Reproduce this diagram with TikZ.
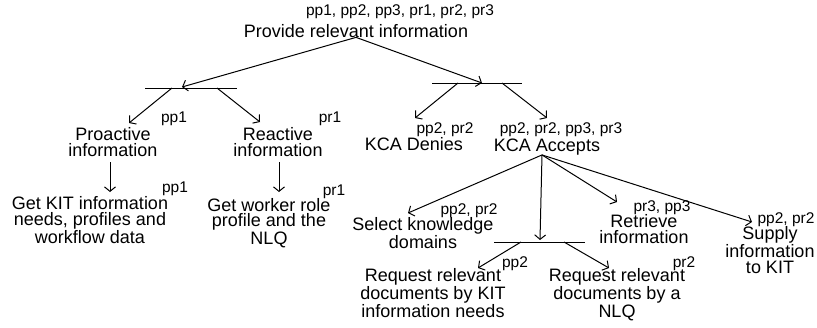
\documentclass[tikz,border=0pt]{standalone}
\usepackage{fontspec}
\setmainfont{Liberation Sans}
\usetikzlibrary{arrows.meta}
\begin{document}
\begin{tikzpicture}[x=1pt,y=-1pt,
  main/.style={font=\fontsize{18}{15.5}\selectfont, align=center, inner sep=0pt, anchor=base},
  lab/.style={font=\fontsize{15.5}{15.5}\selectfont, inner sep=0pt, anchor=base},
  conn/.style={line width=1pt, -{Straight Barb[length=4.5pt,width=11pt]}},
  bar/.style={line width=1pt}]
\useasboundingbox (0,0) rectangle (817,327);

% top
\node[lab] (Lprov) at (400,15) {pp1, pp2, pp3, pr1, pr2, pr3};
\node[main] (prov) at (356,37) {Provide relevant information};

% bars
\coordinate (b1l) at (145,88); \coordinate (b1r) at (237,88);
\coordinate (b1in) at (182,87);
\draw[bar] (b1l) -- (b1r);
\coordinate (b2l) at (432,83); \coordinate (b2r) at (522,83);
\coordinate (b2in) at (482,83);
\draw[bar] (b2l) -- (b2r);
\draw[conn] (prov.south) -- (b1in);
\draw[conn] (prov.south) -- (b2in);

% left subtree
\coordinate (b1a) at (172,88); \coordinate (t1) at (129,123);
\coordinate (b1b) at (217,88); \coordinate (t2) at (260,122);
\draw[conn] (b1a) -- (t1);
\draw[conn] (b1b) -- (t2);
\node[lab] (Lpro) at (174,122) {pp1};
\node[main] (pro) at (113,156) {Proactive\\information};
\node[lab] (Lrea) at (330,122) {pr1};
\node[main] (rea) at (278,156) {Reactive\\information};

\coordinate (g1t) at (110,192);
\coordinate (g2t) at (279,192);
\draw[conn, shorten <=6pt] (pro.south -| g1t) -- (g1t);
\draw[conn, shorten <=6pt] (rea.south -| g2t) -- (g2t);
\node[lab] (Lg1) at (175,192) {pp1};
\node[main] (g1) at (90,243) {Get KIT information\\needs, profiles and\\workflow data};
\node[lab] (Lg2) at (334,195) {pr1};
\node[main] (g2) at (269,244) {Get worker role\\profile and the\\NLQ};

% right subtree
\coordinate (b2a) at (458,83); \coordinate (t3) at (415,118);
\coordinate (b2b) at (502,83); \coordinate (t4) at (547,118);
\draw[conn] (b2a) -- (t3);
\draw[conn] (b2b) -- (t4);
\node[lab] (Lden) at (445,133) {pp2, pr2};
\node[main] (den) at (414,150) {KCA Denies};
\node[lab] (Lacc) at (561,133) {pp2, pr2, pp3, pr3};
\node[main] (acc) at (547,151) {KCA Accepts};

\coordinate (acc0) at ([xshift=-5pt]acc.south);
\coordinate (t5) at (408,213);
\coordinate (b3in) at (540,240);
\coordinate (t6) at (617,202);
\coordinate (t7) at (752,222);
\draw[conn] (acc0) -- (t5);
\draw[conn] (acc0) -- (b3in);
\draw[conn] (acc0) -- (t6);
\draw[conn] (acc0) -- (t7);

\node[lab] (Lsel) at (469,214) {pp2, pr2};
\node[main] (sel) at (423,248) {Select knowledge\\domains};
\node[lab] (Lret) at (662,211) {pr3, pp3};
\node[main] (ret) at (644,243) {Retrieve\\information};
\node[lab] (Lsup) at (786,223) {pp2, pr2};
\node[main] (sup) at (770,273) {Supply\\information\\to KIT};

\coordinate (b3l) at (494,242); \coordinate (b3r) at (585,242);
\draw[bar] (b3l) -- (b3r);
\coordinate (b3a) at (521,242); \coordinate (t8) at (478,268);
\coordinate (b3b) at (564,242); \coordinate (t9) at (609,268);
\draw[conn] (b3a) -- (t8);
\draw[conn] (b3b) -- (t9);
\node[lab] (Lrq1) at (515,267) {pp2};
\node[main] (rq1) at (433,317) {Request relevant\\documents by KIT\\information needs};
\node[lab] (Lrq2) at (684,267) {pr2};
\node[main] (rq2) at (617,317) {Request relevant\\documents by a\\NLQ};
\end{tikzpicture}
\end{document}
